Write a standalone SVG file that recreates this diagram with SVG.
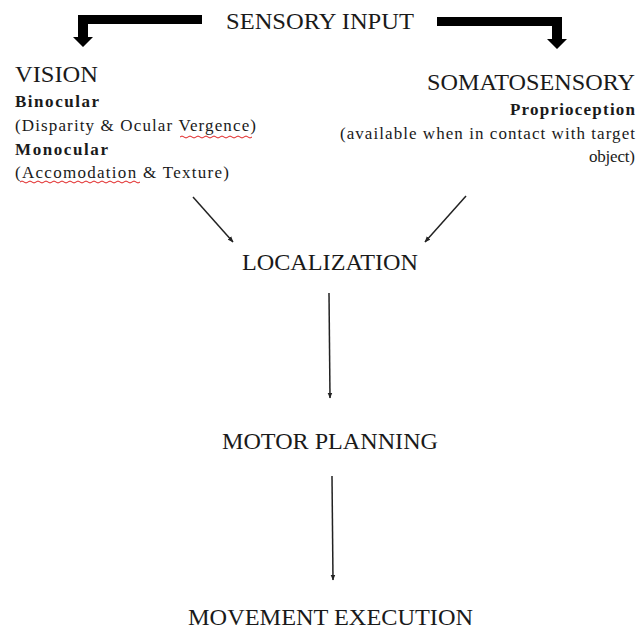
<svg xmlns="http://www.w3.org/2000/svg" width="642" height="633" viewBox="0 0 642 633">
<style>
  text { font-family: "Liberation Serif", "Times New Roman", serif; fill: #1a1a1a; }
  .big { font-size: 24px; }
  .sub { font-size: 17px; }
  .bold { font-size: 17px; font-weight: bold; }
  .thin { stroke: #222; stroke-width: 1.5; fill: none; }
  .thick { fill: #000; }
  .squig { stroke: #e02020; stroke-width: 1; fill: none; }
</style>
<defs>
  <marker id="ah" viewBox="0 0 10 10" refX="9" refY="5" markerWidth="6" markerHeight="6" markerUnits="userSpaceOnUse" orient="auto">
    <path d="M0,1 L10,5 L0,9 Z" fill="#222"/>
  </marker>
</defs>
<rect width="642" height="633" fill="#fff"/>

<g id="connectors">
  <path class="thick" d="M202,15 H78 V37 H73 L83,47 L93,37 H88 V24 H202 Z"/>
  <path class="thick" d="M437,17 H562 V39 H567 L557,49 L547,39 H552 V26 H437 Z"/>
  <line class="thin" x1="193" y1="197" x2="233" y2="242" marker-end="url(#ah)"/>
  <line class="thin" x1="466" y1="196" x2="425" y2="242" marker-end="url(#ah)"/>
  <line class="thin" x1="329" y1="293" x2="330" y2="398" marker-end="url(#ah)"/>
  <line class="thin" x1="332" y1="476" x2="333" y2="580" marker-end="url(#ah)"/>
</g>

<g id="sensory-input">
  <text class="big" x="226" y="29" textLength="188" lengthAdjust="spacingAndGlyphs">SENSORY INPUT</text>
</g>

<g id="vision">
  <text class="big" x="15" y="82" textLength="83" lengthAdjust="spacingAndGlyphs">VISION</text>
  <text class="bold" x="15" y="107" textLength="84" lengthAdjust="spacing">Binocular</text>
  <text class="sub" x="15" y="131" textLength="241" lengthAdjust="spacing">(Disparity &amp; Ocular Vergence)</text>
  <text class="bold" x="15" y="155" textLength="93" lengthAdjust="spacing">Monocular</text>
  <text class="sub" x="15" y="178" textLength="214" lengthAdjust="spacing">(Accomodation &amp; Texture)</text>
  <path class="squig" d="M180,137 q2,-2 4,0 t4,0 t4,0 t4,0 t4,0 t4,0 t4,0 t4,0 t4,0 t4,0 t4,0 t4,0 t4,0 t4,0 t4,0 t4,0 t4,0 t4,0"/>
  <path class="squig" d="M20,182 q2,-2 4,0 t4,0 t4,0 t4,0 t4,0 t4,0 t4,0 t4,0 t4,0 t4,0 t4,0 t4,0 t4,0 t4,0 t4,0 t4,0 t4,0 t4,0 t4,0 t4,0 t4,0 t4,0 t4,0 t4,0 t4,0 t4,0 t4,0 t4,0 t4,0 t4,0"/>
</g>

<g id="somatosensory">
  <text class="big" x="427" y="90" textLength="208" lengthAdjust="spacingAndGlyphs">SOMATOSENSORY</text>
  <text class="bold" x="510" y="115" textLength="125" lengthAdjust="spacing">Proprioception</text>
  <text class="sub" x="340" y="139" textLength="295" lengthAdjust="spacing">(available when in contact with target</text>
  <text class="sub" x="589" y="162" textLength="46" lengthAdjust="spacing">object)</text>
</g>

<g id="localization">
  <text class="big" x="242" y="270" textLength="176" lengthAdjust="spacingAndGlyphs">LOCALIZATION</text>
</g>

<g id="motor-planning">
  <text class="big" x="222" y="449" textLength="216" lengthAdjust="spacingAndGlyphs">MOTOR PLANNING</text>
</g>

<g id="movement-execution">
  <text class="big" x="188" y="625" textLength="285" lengthAdjust="spacingAndGlyphs">MOVEMENT EXECUTION</text>
</g>
</svg>
